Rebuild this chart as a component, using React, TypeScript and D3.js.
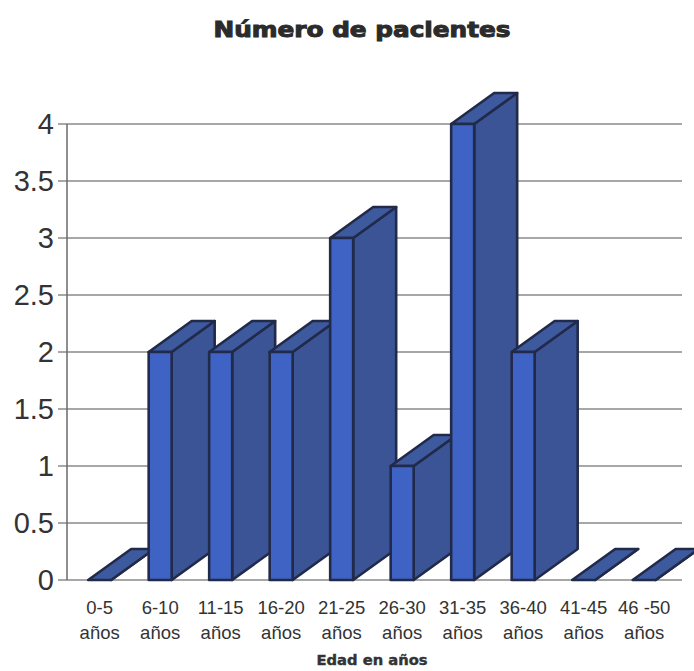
import React from "react";
import * as d3 from "d3";

const categories = ["0-5", "6-10", "11-15", "16-20", "21-25", "26-30", "31-35", "36-40", "41-45", "46 -50"];
const values = [0, 2, 2, 2, 3, 1, 4, 2, 0, 0];
const yTicks = [0, 0.5, 1, 1.5, 2, 2.5, 3, 3.5, 4];
const title = "Número de pacientes";
const xTitle = "Edad en años";
const unitLabel = "años";

const W = 694;
const H = 671;
const left = 67;
const right = 672;
const gridRight = 682;
const y0px = 580;
const y4px = 124;

const FRONT = "#3f63c4";
const SIDE = "#3a5496";
const TOP = "#3d5a9f";
const EDGE = "#222a4a";

export default function App() {
  const x = d3.scaleBand<string>().domain(categories).range([left, right]).paddingInner(0).paddingOuter(0);
  const y = d3.scaleLinear().domain([0, 4]).range([y0px, y4px]);
  const bw = x.bandwidth();
  const offset = bw * 0.35;
  const fw = bw * 0.38;
  const dx = 43;
  const dy = -31;

  const pts = (arr: [number, number][]) => arr.map((p) => p.join(",")).join(" ");

  return (
    <svg width={W} height={H} style={{ position: "absolute", left: 0, top: 0, background: "#fff" }}>
      <text
        x={362}
        y={37}
        textAnchor="middle"
        fontFamily="'DejaVu Sans', 'Liberation Sans', sans-serif"
        fontWeight="bold"
        fontSize={21}
        fill="#2b2b2b"
        stroke="#2b2b2b"
        strokeWidth={1}
        textLength={297}
        lengthAdjust="spacingAndGlyphs"
      >
        {title}
      </text>

      {yTicks.map((t) => (
        <g key={t}>
          <line x1={left - 9} x2={gridRight} y1={y(t)} y2={y(t)} stroke="#8a8a8a" strokeWidth={1.4} />
          <text
            x={54}
            y={y(t)}
            dy="0.36em"
            textAnchor="end"
            fontFamily="'Liberation Sans', Arial, sans-serif"
            fontSize={29}
            fill="#333"
          >
            {t}
          </text>
        </g>
      ))}
      <line x1={left} x2={left} y1={y4px} y2={y0px} stroke="#6a6a6a" strokeWidth={1.5} />

      {categories.map((c, i) => {
        const xl = (x(c) as number) + offset;
        const xr = xl + fw;
        const yt = y(values[i]);
        const yb = y(0);
        return (
          <g key={c} stroke={EDGE} strokeWidth={2.6} strokeLinejoin="round">
            <polygon fill={SIDE} points={pts([[xr, yt], [xr + dx, yt + dy], [xr + dx, yb + dy], [xr, yb]])} />
            <polygon fill={TOP} points={pts([[xl, yt], [xl + dx, yt + dy], [xr + dx, yt + dy], [xr, yt]])} />
            {values[i] > 0 && <rect x={xl} y={yt} width={fw} height={yb - yt} fill={FRONT} />}
          </g>
        );
      })}

      {categories.map((c) => {
        const cx = (x(c) as number) + offset + fw / 2;
        return (
          <g key={c} fontFamily="'Liberation Sans', Arial, sans-serif" fontSize={18.5} fill="#333" textAnchor="middle">
            <text x={cx} y={614}>{c}</text>
            <text x={cx} y={639}>{unitLabel}</text>
          </g>
        );
      })}

      <text
        x={372}
        y={665}
        textAnchor="middle"
        fontFamily="'DejaVu Sans', 'Liberation Sans', sans-serif"
        fontWeight="bold"
        fontSize={14}
        fill="#333"
        stroke="#333"
        strokeWidth={0.4}
        textLength={111}
        lengthAdjust="spacingAndGlyphs"
      >
        {xTitle}
      </text>
    </svg>
  );
}
